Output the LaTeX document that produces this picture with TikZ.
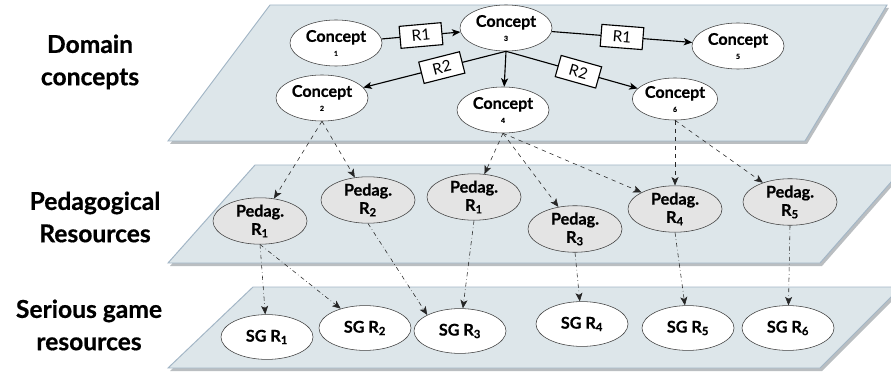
\documentclass[tikz,border=0pt]{standalone}
\usepackage{fontspec}
\setmainfont{Lato}[BoldFeatures={FakeBold=0.6}]
\usetikzlibrary{shapes.geometric,arrows.meta}

\definecolor{planefill}{HTML}{DDE6EA}
\definecolor{planeedge}{HTML}{A3B6C6}
\definecolor{planeshadow}{HTML}{8C9398}
\definecolor{pedfill}{HTML}{E4E4E4}

\begin{document}
\begin{tikzpicture}[x=0.025cm,y=-0.025cm,
	plane/.style={fill=planefill,draw=planeedge,line width=0.7pt},
	planeshade/.style={fill=planeshadow,opacity=0.6},
	layer/.style={font=\bfseries\fontsize{17.5}{23}\selectfont,align=center},
	concept/.style={draw=black!75,ellipse,fill=white,minimum width=2.3cm,minimum height=1.15cm,inner sep=0pt,align=center,font=\bfseries\fontsize{11.5}{12}\selectfont},
	pedag/.style={draw=black!75,ellipse,fill=pedfill,minimum width=2.35cm,minimum height=1.13cm,inner sep=0pt,align=center,font=\bfseries\fontsize{11.5}{13}\selectfont},
	sgres/.style={draw=black!75,ellipse,fill=white,minimum width=2.3cm,minimum height=1.12cm,inner sep=0pt,font=\bfseries\fontsize{11.5}{13}\selectfont},
	relbox/.style={draw,fill=white,minimum width=1.05cm,minimum height=0.55cm,inner sep=1pt,font=\fontsize{11}{12}\selectfont},
	rel/.style={->,>={Stealth[length=6pt,width=5pt,inset=1.5pt]},thick},
	toped/.style={->,>={Stealth[length=6pt,width=5pt,inset=1.5pt]},dashed,black!85},
	tosg/.style={->,>={Stealth[length=6pt,width=5pt,inset=1.5pt]},dash dot,black!85}]

	\useasboundingbox (0,0) rectangle (891,373);
	\begin{scope}
		\clip (0,0) rectangle (891,373);
		% the three layers, each with a soft shadow under it
		\fill[planeshade] (272,8) -- (889,8) -- (807,144) -- (170,144) -- cycle;
		\draw[plane] (270,5) -- (887,5) -- (805,141) -- (168,141) -- cycle;
		\fill[planeshade] (257,168) -- (908,168) -- (822,266) -- (170,266) -- cycle;
		\draw[plane] (255,165) -- (906,165) -- (820,263) -- (168,263) -- cycle;
		\fill[planeshade] (255,290) -- (903,290) -- (822,371) -- (170,371) -- cycle;
		\draw[plane] (253,287) -- (901,287) -- (820,368) -- (168,368) -- cycle;
	\end{scope}

	\node[layer] (ldomain) at (90,62) {Domain\\concepts};
	\node[layer] (lpedag) at (95,217) {Pedagogical\\Resources};
	\node[layer] (lsg) at (89,325) {Serious game\\resources};

	% domain concepts
	\node[concept] (c1) at (336,43) {Concept\\[-2pt]{\fontsize{5}{5}\selectfont 1}};
	\node[concept] (c3) at (506,28) {Concept\\[-2pt]{\fontsize{5}{5}\selectfont 3}};
	\node[concept] (c5) at (738,46) {Concept\\[-2pt]{\fontsize{5}{5}\selectfont 5}};
	\node[concept] (c2) at (322,98) {Concept\\[-2pt]{\fontsize{5}{5}\selectfont 2}};
	\node[concept] (c4) at (503,110) {Concept\\[-2pt]{\fontsize{5}{5}\selectfont 4}};
	\node[concept,minimum width=1.95cm,minimum height=1.05cm] (c6) at (675,99) {Concept\\[-2pt]{\fontsize{5}{5}\selectfont 6}};

	\draw[rel] (c1) -- node[relbox,sloped] {R1} (c3);
	\draw[rel] (c3) -- node[relbox,sloped] {R1} (c5);
	\draw[rel] (c3.south) -- node[relbox,sloped,pos=0.45] {R2} (c2);
	\draw[rel] (c3.south) -- node[relbox,sloped,pos=0.55] {R2} (c6);
	\draw[rel] (c3.south) -- (c4);

	% pedagogical resources
	\node[pedag] (p1) at (260,221) {Pedag.\\R\textsubscript{1}};
	\node[pedag] (p2) at (368,200) {Pedag.\\R\textsubscript{2}};
	\node[pedag] (p1b) at (474,197) {Pedag.\\R\textsubscript{1}};
	\node[pedag] (p3) at (575,229) {Pedag.\\R\textsubscript{3}};
	\node[pedag] (p4) at (675,209) {Pedag.\\R\textsubscript{4}};
	\node[pedag] (p5) at (790,202) {Pedag.\\R\textsubscript{5}};

	\draw[toped] (c2.south) -- (p1);
	\draw[toped] (c2.south) -- (p2);
	\draw[toped] (c4.south) -- (p1b);
	\draw[toped] (c4.south) -- (p3);
	\draw[toped] (c4.south) -- (p4.north west);
	\draw[toped] (c6.south) -- (p4);
	\draw[toped] (c6.south) -- (p5);

	% serious game resources
	\node[sgres] (s1) at (267,337) {SG R\textsubscript{1}};
	\node[sgres] (s2) at (365,328) {SG R\textsubscript{2}};
	\node[sgres] (s3) at (460,331) {SG R\textsubscript{3}};
	\node[sgres] (s4) at (582,324) {SG R\textsubscript{4}};
	\node[sgres] (s5) at (688,328) {SG R\textsubscript{5}};
	\node[sgres] (s6) at (788,328) {SG R\textsubscript{6}};

	\draw[tosg] (p1.south) -- (s1);
	\draw[tosg] (p1.south) -- (s2);
	\draw[tosg] (p2.south) -- (s3.north west);
	\draw[tosg] (p1b.south) -- (s3);
	\draw[tosg] (p3.south) -- (s4);
	\draw[tosg] (p4.south) -- (s5);
	\draw[tosg] (p5.south) -- (s6);
\end{tikzpicture}
\end{document}
